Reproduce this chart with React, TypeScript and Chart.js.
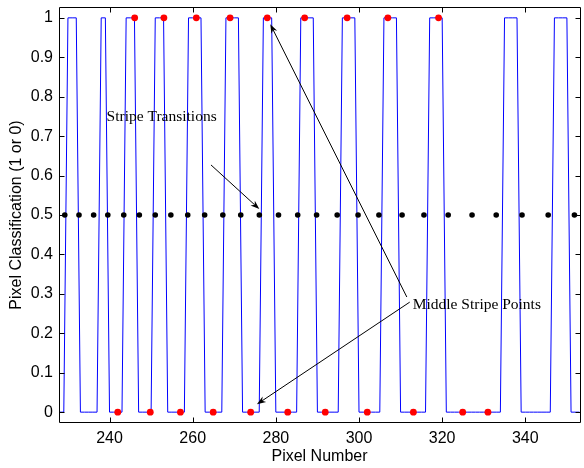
import React, { useEffect, useRef } from "react";
import { Chart, registerables } from "chart.js";

Chart.register(...registerables);

// ---------- data ----------
const FIRST_PIXEL = 228;
// pixel classification for pixels 228 .. 353
const pixelClass = [
  0, 0,
  1, 1, 1,
  0, 0, 0, 0, 0,
  1, 1,
  0, 0, 0, 0,
  1, 1, 1,
  0, 0, 0, 0,
  1, 1, 1,
  0, 0, 0, 0, 0,
  1, 1, 1, 1,
  0, 0, 0, 0, 0,
  1, 1, 1, 1,
  0, 0, 0, 0, 0,
  1, 1, 1,
  0, 0, 0, 0, 0, 0,
  1, 1, 1, 1,
  0, 0, 0, 0, 0, 0,
  1, 1, 1, 1,
  0, 0, 0, 0, 0, 0,
  1, 1, 1, 1,
  0, 0, 0, 0, 0, 0, 0,
  1, 1, 1, 1,
  0, 0, 0, 0, 0, 0, 0, 0, 0, 0, 0, 0, 0, 0,
  1, 1, 1, 1,
  0, 0, 0, 0, 0, 0, 0, 0,
  1, 1, 1, 1,
  0, 0, 0,
];

const TRANSITION_LEVEL = 0.5;
const transitionX = [
  229.24, 232.66, 236.18, 239.59, 243.42, 247.17, 251.0, 254.75, 258.81,
  262.88, 267.25, 271.56, 276.03, 280.64, 285.26, 289.8, 294.75, 299.77,
  304.79, 310.36, 315.62, 321.45, 327.19, 333.0, 339.21, 345.5, 351.81,
];

const middleTopX = [246.05, 253.08, 260.87, 269.0, 277.94, 286.93, 297.14, 306.94, 319.13];
const middleBottomX = [241.98, 249.8, 257.05, 264.93, 273.95, 282.86, 291.88, 301.99, 313.08, 324.94, 331.01];

const xTicks = [240, 260, 280, 300, 320, 340];
const xTickLabels = ["240", "260", "280", "300", "320", "340"];
const yTicks = [0, 0.1, 0.2, 0.3, 0.4, 0.5, 0.6, 0.7, 0.8, 0.9, 1];
const yTickLabels = ["0", "0.1", "0.2", "0.3", "0.4", "0.5", "0.6", "0.7", "0.8", "0.9", "1"];

const X_MIN = 227.85;
const X_MAX = 353.15;
const Y_MIN = -0.025;
const Y_MAX = 1.025;

// annotations (data coordinates)
const stripeLabel = { text: "Stripe Transitions", x: 239.3, y: 0.748 };
const stripeArrow = { from: [264.4, 0.627], to: [276.03, 0.515] };
const middleLabel = { text: "Middle Stripe Points", x: 312.9, y: 0.272 };
const middleArrows = [
  { from: [311.5, 0.292], to: [278.66, 0.984] },
  { from: [312.2, 0.279], to: [275.45, 0.02] },
];

const SANS = '"Liberation Sans", Arial, Helvetica, sans-serif';
const SERIF = '"Liberation Serif", "Times New Roman", serif';

// ---------- plugins ----------
const boxPlugin = {
  id: "matlabBox",
  afterDraw(chart: any) {
    const { ctx, chartArea: a, scales } = chart;
    const L = a.left + 0.5, R = a.right + 0.5, T = a.top - 0.5, B = a.bottom + 0.5;
    const tl = 5;
    ctx.save();
    ctx.strokeStyle = "#000";
    ctx.lineWidth = 1;
    ctx.beginPath();
    ctx.rect(L, T, R - L, B - T);
    for (const v of xTicks) {
      const px = Math.round(scales.x.getPixelForValue(v)) + 0.5;
      ctx.moveTo(px, B); ctx.lineTo(px, B - tl);
      ctx.moveTo(px, T); ctx.lineTo(px, T + tl);
    }
    for (const v of yTicks) {
      const py = Math.round(scales.y.getPixelForValue(v)) + 0.5;
      ctx.moveTo(L, py); ctx.lineTo(L + tl, py);
      ctx.moveTo(R, py); ctx.lineTo(R - tl, py);
    }
    ctx.stroke();
    ctx.restore();
  },
};

function drawArrow(ctx: CanvasRenderingContext2D, x1: number, y1: number, x2: number, y2: number) {
  const dx = x2 - x1, dy = y2 - y1;
  const len = Math.hypot(dx, dy);
  const ux = dx / len, uy = dy / len;
  const nx = -uy, ny = ux;
  const HL = 9, HW = 3.2;
  ctx.beginPath();
  ctx.moveTo(x1, y1);
  ctx.lineTo(x2 - ux * HL * 0.7, y2 - uy * HL * 0.7);
  ctx.stroke();
  ctx.beginPath();
  ctx.moveTo(x2, y2);
  ctx.lineTo(x2 - ux * HL + nx * HW, y2 - uy * HL + ny * HW);
  ctx.lineTo(x2 - ux * HL * 0.7, y2 - uy * HL * 0.7);
  ctx.lineTo(x2 - ux * HL - nx * HW, y2 - uy * HL - ny * HW);
  ctx.closePath();
  ctx.fill();
}

const annotationPlugin = {
  id: "annotations",
  afterDraw(chart: any) {
    const { ctx, scales } = chart;
    const px = (v: number) => scales.x.getPixelForValue(v);
    const py = (v: number) => scales.y.getPixelForValue(v);
    ctx.save();
    ctx.strokeStyle = "#000";
    ctx.fillStyle = "#000";
    ctx.lineWidth = 1;
    const arrows = [stripeArrow, ...middleArrows];
    for (const a of arrows) {
      drawArrow(ctx, px(a.from[0]), py(a.from[1]), px(a.to[0]), py(a.to[1]));
    }
    ctx.font = `15.5px ${SERIF}`;
    ctx.textAlign = "left";
    ctx.textBaseline = "middle";
    for (const l of [stripeLabel, middleLabel]) {
      ctx.fillText(l.text, px(l.x), py(l.y));
    }
    ctx.restore();
  },
};

const noPad = (s: any) => {
  s.paddingTop = 0;
  s.paddingBottom = 0;
  s.paddingLeft = 0;
  s.paddingRight = 0;
};

export default function App() {
  const ref = useRef<HTMLCanvasElement>(null);

  useEffect(() => {
    const canvas = ref.current;
    if (!canvas) return;

    const wave = pixelClass.map((v, i) => ({ x: FIRST_PIXEL + i, y: v }));
    const transitions = transitionX.map((x) => ({ x, y: TRANSITION_LEVEL }));
    const tops = middleTopX.map((x) => ({ x, y: 1 }));
    const bottoms = middleBottomX.map((x) => ({ x, y: 0 }));

    const chart = new Chart(canvas, {
      type: "scatter",
      data: {
        datasets: [
          {
            label: "Middle stripe (1)",
            data: tops,
            pointRadius: 3.4,
            pointBackgroundColor: "#ff0000",
            pointBorderWidth: 0,
            showLine: false,
          },
          {
            label: "Middle stripe (0)",
            data: bottoms,
            pointRadius: 3.4,
            pointBackgroundColor: "#ff0000",
            pointBorderWidth: 0,
            showLine: false,
          },
          {
            label: "Transitions",
            data: transitions,
            pointRadius: 2.8,
            pointBackgroundColor: "#000000",
            pointBorderWidth: 0,
            showLine: false,
          },
          {
            label: "Classification",
            data: wave,
            showLine: true,
            borderColor: "#0000ff",
            borderWidth: 1,
            pointRadius: 0,
            tension: 0,
          },
        ],
      } as any,
      options: {
        responsive: false,
        animation: false,
        devicePixelRatio: 1,
        layout: { padding: { top: 8, right: 1, left: 0, bottom: 0 } },
        plugins: { legend: { display: false }, tooltip: { enabled: false } },
        scales: {
          x: {
            type: "linear",
            min: X_MIN,
            max: X_MAX,
            afterFit: (s: any) => { s.height = 46; noPad(s); },
            afterBuildTicks: (s: any) => { s.ticks = xTicks.map((v) => ({ value: v })); },
            grid: { display: false, drawTicks: false },
            border: { display: false },
            ticks: {
              color: "#000",
              font: { family: SANS, size: 16 },
              padding: 7,
              maxRotation: 0,
              autoSkip: false,
              callback: (_v: any, i: number) => xTickLabels[i],
            },
            title: {
              display: true,
              text: "Pixel Number",
              color: "#000",
              font: { family: SANS, size: 16 },
              padding: { top: 0, bottom: 2 },
            },
          },
          y: {
            type: "linear",
            min: Y_MIN,
            max: Y_MAX,
            afterFit: (s: any) => { s.width = 59; noPad(s); },
            afterBuildTicks: (s: any) => { s.ticks = yTicks.map((v) => ({ value: v })); },
            grid: { display: false, drawTicks: false },
            border: { display: false },
            ticks: {
              color: "#000",
              font: { family: SANS, size: 16 },
              padding: 6,
              autoSkip: false,
              callback: (_v: any, i: number) => yTickLabels[i],
            },
            title: {
              display: true,
              text: "Pixel Classification (1 or 0)",
              color: "#000",
              font: { family: SANS, size: 16 },
              padding: { top: 7, bottom: 0 },
            },
          },
        },
      } as any,
      plugins: [boxPlugin, annotationPlugin],
    });

    return () => chart.destroy();
  }, []);

  return (
    <canvas
      ref={ref}
      width={584}
      height={468}
      style={{ position: "absolute", left: 0, top: 0, width: 584, height: 468 }}
    />
  );
}
